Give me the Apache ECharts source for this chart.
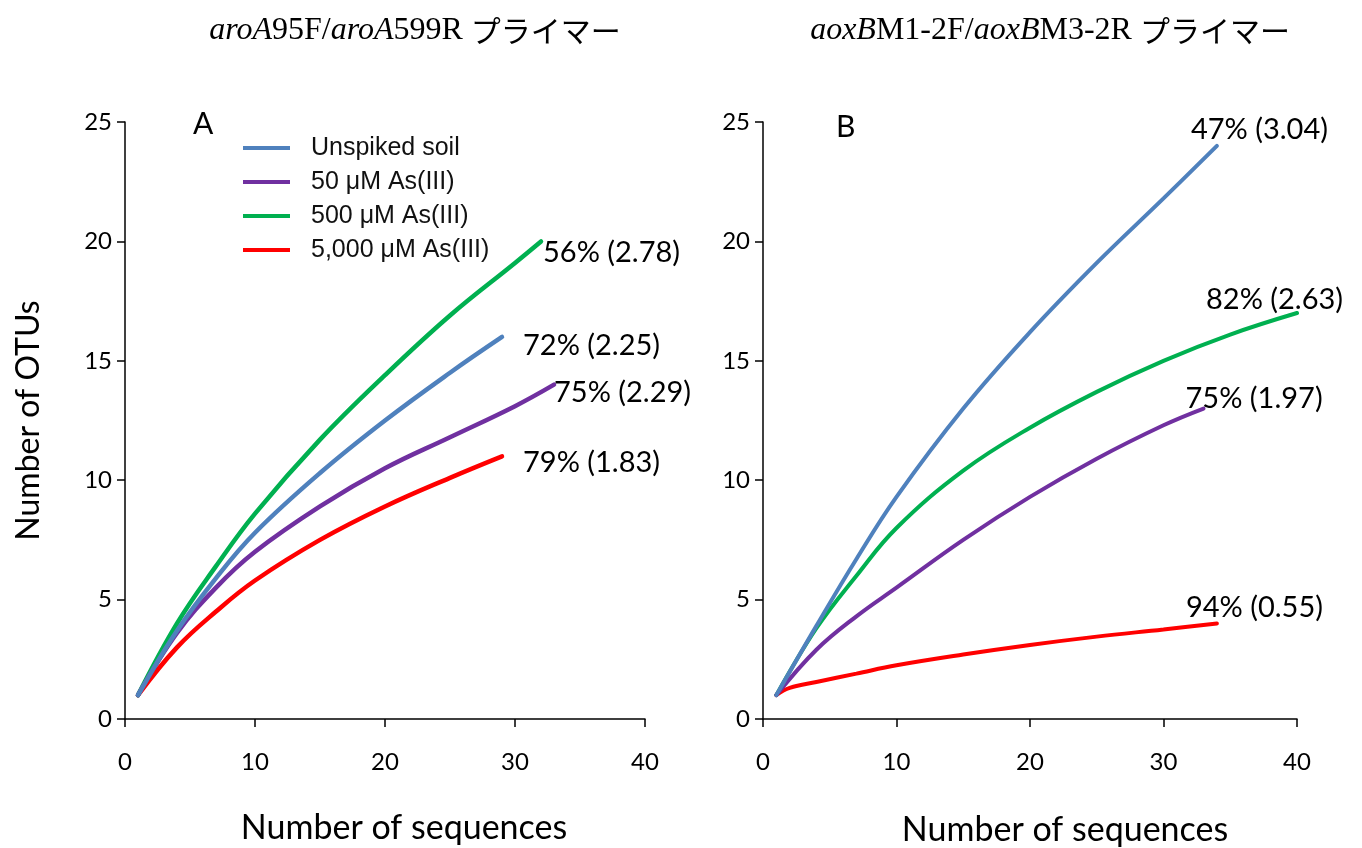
<!DOCTYPE html>
<html>
<head>
<meta charset="utf-8">
<script src="https://cdn.jsdelivr.net/npm/echarts@6/dist/echarts.min.js"></script>
<style>
  html, body { margin: 0; padding: 0; background: #fff; }
  #chart { width: 1362px; height: 848px; }
</style>
</head>
<body>
<div id="chart"></div>
<script>
// Rarefaction curves: number of OTUs vs. number of sequences
const seriesNames = ['Unspiked soil', '50 μM As(III)', '500 μM As(III)', '5,000 μM As(III)'];
const seriesColors = ['#4F81BD', '#7030A0', '#00B050', '#FF0000'];

// Panel A — aroA95F/aroA599R
const aUnspikedX = [1, 4, 7, 10, 15, 20, 25, 29];
const aUnspikedY = [1, 3.7, 5.9, 7.8, 10.3, 12.5, 14.5, 16];
const a50X = [1, 4, 7, 10, 15, 20, 25, 30, 33];
const a50Y = [1, 3.6, 5.5, 7.0, 8.9, 10.5, 11.8, 13.1, 14];
const a500X = [1, 4, 7, 10, 15, 20, 25, 30, 32];
const a500Y = [1, 4.0, 6.4, 8.6, 11.7, 14.4, 16.9, 19.1, 20];
const a5000X = [1, 4, 7, 10, 15, 20, 25, 29];
const a5000Y = [1, 3.0, 4.5, 5.8, 7.5, 8.9, 10.1, 11];
const aEndLabels = ['72% (2.25)', '75% (2.29)', '56% (2.78)', '79% (1.83)'];

// Panel B — aoxBM1-2F/aoxBM3-2R
const bUnspikedX = [1, 4, 7, 10, 15, 20, 25, 30, 34];
const bUnspikedY = [1, 3.9, 6.7, 9.3, 13.0, 16.2, 19.1, 21.8, 24];
const b50X = [1, 4, 7, 10, 15, 20, 25, 30, 33];
const b50Y = [1, 2.9, 4.3, 5.5, 7.5, 9.3, 10.9, 12.3, 13];
const b500X = [1, 4, 7, 10, 15, 20, 25, 30, 35, 40];
const b500Y = [1, 3.8, 6.0, 8.0, 10.4, 12.2, 13.7, 15.0, 16.1, 17.0];
const b5000X = [1, 2, 4, 7, 10, 15, 20, 25, 30, 34];
const b5000Y = [1, 1.3, 1.55, 1.9, 2.25, 2.7, 3.1, 3.45, 3.75, 4];
const bEndLabels = ['47% (3.04)', '75% (1.97)', '82% (2.63)', '94% (0.55)'];

// Axis ticks
const xTicks = [0, 10, 20, 30, 40];
const yTicks = [0, 5, 10, 15, 20, 25];

const panelA = [[aUnspikedX, aUnspikedY], [a50X, a50Y], [a500X, a500Y], [a5000X, a5000Y]];
const panelB = [[bUnspikedX, bUnspikedY], [b50X, b50Y], [b500X, b500Y], [b5000X, b5000Y]];

// end-label placement per curve (pixels)
const aLabelOffsets = [[19, 9], [-2, 8], [0, 11], [19, 6]];
const bLabelOffsets = [[-28, -16], [-20, -10], [-93, -13], [-33, -16]];

const sans = 'Lato, "Open Sans", sans-serif';
const serif = '"Liberation Serif", "Times New Roman", serif';
const cjk = '"Noto Sans CJK JP", sans-serif';

function pairs(xs, ys) { return xs.map((x, i) => [x, ys[i]]); }

function axisCommon() {
  return {
    type: 'value',
    min: xTicks[0],
    max: xTicks[xTicks.length - 1],
    interval: 10,
    axisLine: { show: true, lineStyle: { color: '#000', width: 1.5 } },
    axisTick: { show: true, inside: false, length: 8, lineStyle: { color: '#000', width: 1.5 } },
    splitLine: { show: false },
    axisLabel: { color: '#000', fontFamily: sans, fontSize: 24, margin: 31 }
  };
}

function xAxis(gridIndex, nameGap, shift) {
  return Object.assign(axisCommon(), {
    gridIndex,
    name: 'Number of sequences',
    nameLocation: 'middle',
    nameGap,
    nameTextStyle: { color: '#000', fontFamily: sans, fontSize: 34, padding: [0, 0, 0, shift] }
  });
}

function yAxis(gridIndex, withName) {
  const ax = Object.assign(axisCommon(), {
    gridIndex,
    min: yTicks[0],
    max: yTicks[yTicks.length - 1],
    interval: 5
  });
  ax.axisLabel = Object.assign({}, ax.axisLabel, { margin: 13 });
  if (withName) {
    ax.name = 'Number of OTUs';
    ax.nameLocation = 'middle';
    ax.nameGap = 80;
    ax.nameTextStyle = { color: '#000', fontFamily: sans, fontSize: 32 };
  }
  return ax;
}

function buildSeries(panel, labels, offsets, idx, width) {
  return panel.map(([xs, ys], i) => ({
    name: seriesNames[i],
    type: 'line',
    xAxisIndex: idx,
    yAxisIndex: idx,
    data: pairs(xs, ys),
    smooth: 0.4,
    showSymbol: false,
    symbol: 'none',
    lineStyle: { color: seriesColors[i], width, cap: 'round' },
    itemStyle: { color: seriesColors[i] },
    endLabel: {
      show: true,
      formatter: labels[i],
      color: '#000',
      fontFamily: sans,
      fontSize: 29,
      distance: 2,
      offset: offsets[i]
    },
    z: 10 - i
  }));
}

const chart = echarts.init(document.getElementById('chart'), null, { renderer: 'canvas' });

const titleRich = {
  i: { fontFamily: serif, fontStyle: 'italic', fontWeight: 'normal', fontSize: 32, color: '#000' },
  n: { fontFamily: serif, fontWeight: 'normal', fontSize: 32, color: '#000' },
  j: { fontFamily: cjk, fontWeight: 'normal', fontSize: 30, color: '#000' }
};

chart.setOption({
  animation: false,
  backgroundColor: '#fff',
  title: [
    {
      text: '{i|aroA}{n|95F/}{i|aroA}{n|599R }{j|プライマー}',
      left: 410, top: 10, textAlign: 'center',
      textStyle: { fontWeight: 'normal', rich: titleRich }
    },
    {
      text: '{i|aoxB}{n|M1-2F/}{i|aoxB}{n|M3-2R }{j|プライマー}',
      left: 1045, top: 10, textAlign: 'center',
      textStyle: { fontWeight: 'normal', rich: titleRich }
    },
    {
      text: 'A', left: 188, top: 104,
      textStyle: { fontFamily: sans, fontSize: 30, fontWeight: 'normal', color: '#000' }
    },
    {
      text: 'B', left: 831, top: 107,
      textStyle: { fontFamily: sans, fontSize: 30, fontWeight: 'normal', color: '#000' }
    }
  ],
  legend: {
    data: seriesNames,
    orient: 'vertical',
    left: 238,
    top: 130,
    icon: 'rect',
    itemWidth: 47,
    itemHeight: 4,
    itemGap: 8,
    textStyle: {
      fontFamily: '"Liberation Sans", Arial, sans-serif',
      fontSize: 25,
      color: '#111',
      lineHeight: 26,
      padding: [0, 0, 0, 16]
    }
  },
  grid: [
    { left: 125, top: 122, width: 520, height: 597, outerBoundsMode: 'none' },
    { left: 763, top: 122, width: 534, height: 597, outerBoundsMode: 'none' }
  ],
  xAxis: [xAxis(0, 92, 38), xAxis(1, 94, 70)],
  yAxis: [yAxis(0, true), yAxis(1, false)],
  series: [
    ...buildSeries(panelA, aEndLabels, aLabelOffsets, 0, 4.5),
    ...buildSeries(panelB, bEndLabels, bLabelOffsets, 1, 4)
  ]
});
</script>
</body>
</html>
